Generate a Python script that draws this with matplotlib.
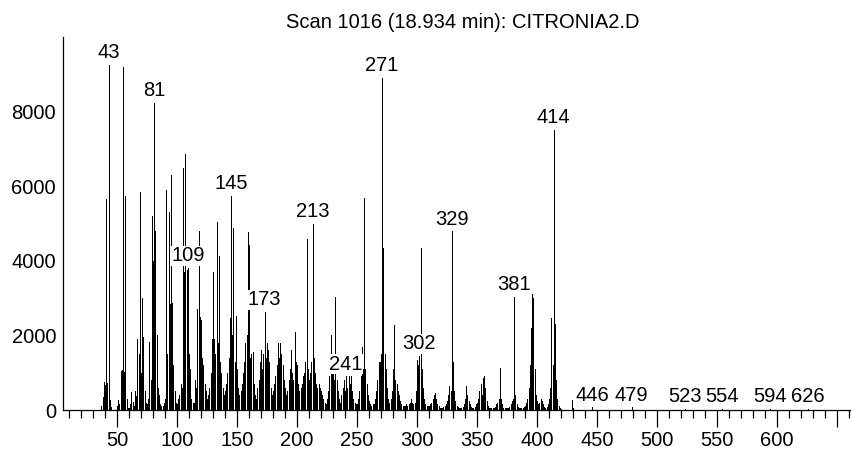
import matplotlib
matplotlib.use("Agg")
import matplotlib.pyplot as plt
from matplotlib.ticker import MultipleLocator, FixedLocator, FixedFormatter

plt.rcParams["font.family"] = ["Liberation Sans", "DejaVu Sans"]

TITLE = "Scan 1016 (18.934 min): CITRONIA2.D"

# abundance for every integer m/z from 37 up to 430
start_mz = 37
abundance = [
    120, 350, 750,                                              # 37-39
    680, 5660, 720, 9260, 280, 80, 0, 0, 0, 0,                  # 40-49
    120, 280, 160, 1050, 1080, 9200, 1020, 5750, 300, 60,       # 50-59
    60, 150, 480, 220, 120, 500, 380, 1900, 1500, 5850,         # 60-69
    1000, 3000, 1950, 500, 200, 150, 300, 1830, 800, 5200,      # 70-79
    4000, 8240, 4800, 2000, 600, 400, 150, 100, 100, 200,       # 80-89
    300, 5890, 1500, 5300, 2850, 6310, 2860, 1200, 500, 200,    # 90-99
    150, 300, 400, 700, 600, 6500, 3700, 6870, 3760, 3800,      # 100-109
    1500, 1100, 300, 200, 200, 800, 600, 2700, 4800, 2500,      # 110-119
    2400, 1400, 1200, 700, 500, 300, 400, 600, 1000, 1900,      # 120-129
    3710, 1900, 1500, 5030, 1800, 4120, 1300, 1000, 600, 400,   # 130-139
    500, 700, 1000, 1400, 2470, 5750, 2000, 4880, 1300, 2520,   # 140-149
    1100, 600, 400, 500, 700, 1000, 1300, 1800, 2000, 4760,     # 150-159
    4430, 1400, 1500, 1560, 700, 400, 300, 600, 800, 1300,      # 160-169
    1610, 1100, 1500, 2630, 1400, 1800, 1600, 1300, 600, 400,   # 170-179
    500, 700, 900, 1200, 1800, 1400, 1800, 1500, 1200, 800,     # 180-189
    600, 400, 500, 800, 1100, 1600, 1000, 800, 2100, 1300,      # 190-199
    1200, 700, 500, 600, 700, 900, 1000, 1300, 4590, 1100,      # 200-209
    800, 1000, 1300, 4990, 1400, 1000, 700, 600, 700, 600,      # 210-219
    500, 400, 300, 200, 150, 300, 500, 900, 2010, 1100,         # 220-229
    1000, 800, 3030, 800, 500, 300, 200, 400, 600, 800,         # 230-239
    500, 900, 600, 900, 700, 900, 500, 300, 200, 150,           # 240-249
    150, 300, 500, 900, 1700, 1100, 5690, 1100, 700, 400,       # 250-259
    250, 150, 100, 150, 150, 300, 500, 800, 1300, 1300,         # 260-269
    1500, 8910, 4340, 1500, 1100, 600, 300, 200, 300, 500,      # 270-279
    1100, 2280, 800, 700, 500, 400, 250, 150, 100, 100,         # 280-289
    100, 150, 100, 150, 200, 300, 200, 150, 200, 500,           # 290-299
    1340, 1200, 1450, 4340, 1100, 600, 300, 150, 100, 100,      # 300-309
    100, 150, 200, 300, 400, 450, 300, 150, 100, 50,            # 310-319
    50, 50, 80, 100, 150, 250, 400, 650, 500, 4790,             # 320-329
    1300, 500, 250, 100, 80, 50, 50, 60, 80, 150,               # 330-339
    300, 650, 400, 250, 150, 80, 60, 60, 80, 150,               # 340-349
    200, 300, 500, 700, 400, 850, 900, 600, 250, 100,           # 350-359
    60, 50, 50, 50, 60, 80, 150, 200, 300, 1130,                # 360-369
    300, 150, 60, 50, 50, 50, 60, 80, 150, 250,                 # 370-379
    300, 3040, 400, 150, 80, 50, 50, 50, 60, 80,                # 380-389
    100, 200, 300, 600, 1200, 2200, 3110, 2990, 1100, 400,      # 390-399
    250, 150, 200, 300, 250, 150, 80, 60, 80, 150,              # 400-409
    300, 600, 2470, 1200, 7520, 2310, 800, 300, 100, 50,        # 410-419
    30, 0, 0, 0, 0, 0, 0, 0, 0, 280,                            # 420-429
    60,                                                         # 430
]
mz = list(range(start_mz, start_mz + len(abundance)))

# tiny high-mass traces
trace_mz = [446, 479, 523, 554, 594, 626]
trace_abundance = [70, 70, 30, 30, 30, 30]

label_mz = [43, 81, 109, 145, 173, 213, 241, 271, 302, 329, 381, 414,
            446, 479, 523, 554, 594, 626]

x_major = [50, 100, 150, 200, 250, 300, 350, 400, 450, 500, 550, 600, 650]
x_major_labels = ["50", "100", "150", "200", "250", "300", "350", "400",
                  "450", "500", "550", "600", ""]
y_ticks = [0, 2000, 4000, 6000, 8000]


def plot_spectrum():
    fig = plt.figure(figsize=(8.51, 4.55), dpi=100)
    ax = fig.add_axes([63 / 851, 45 / 455, 788 / 851, 373 / 455])

    all_mz = mz + trace_mz
    all_ab = abundance + trace_abundance
    ax.vlines(all_mz, 0, all_ab, color="black", linewidth=0.72,
              antialiased=False)

    lookup = dict(zip(all_mz, all_ab))
    for m in sorted(label_mz, reverse=True):
        ax.annotate(str(m), (m, lookup[m]), xytext=(0, 2),
                    textcoords="offset points", ha="center", va="bottom",
                    fontsize=14.5,
                    bbox=dict(facecolor="white", edgecolor="none", pad=0.3))

    ax.set_xlim(5, 661.7)
    ax.set_ylim(0, 10000)

    ax.xaxis.set_major_locator(FixedLocator(x_major))
    ax.xaxis.set_major_formatter(FixedFormatter(x_major_labels))
    ax.xaxis.set_minor_locator(MultipleLocator(10))
    ax.set_yticks(y_ticks)

    ax.tick_params(axis="x", which="major", length=12, width=0.9, pad=3,
                   labelsize=14.5)
    ax.tick_params(axis="x", which="minor", length=5.5, width=0.9)
    ax.tick_params(axis="y", length=0, pad=5, labelsize=14.5)

    for side in ["top", "right"]:
        ax.spines[side].set_visible(False)
    ax.spines["left"].set_linewidth(0.9)
    ax.spines["bottom"].set_linewidth(0.9)

    fig.text(0.544, 1 - 22 / 455, TITLE, ha="center", va="center",
             fontsize=14.5)

    fig.savefig("out.png", dpi=100, facecolor="white")


plot_spectrum()
